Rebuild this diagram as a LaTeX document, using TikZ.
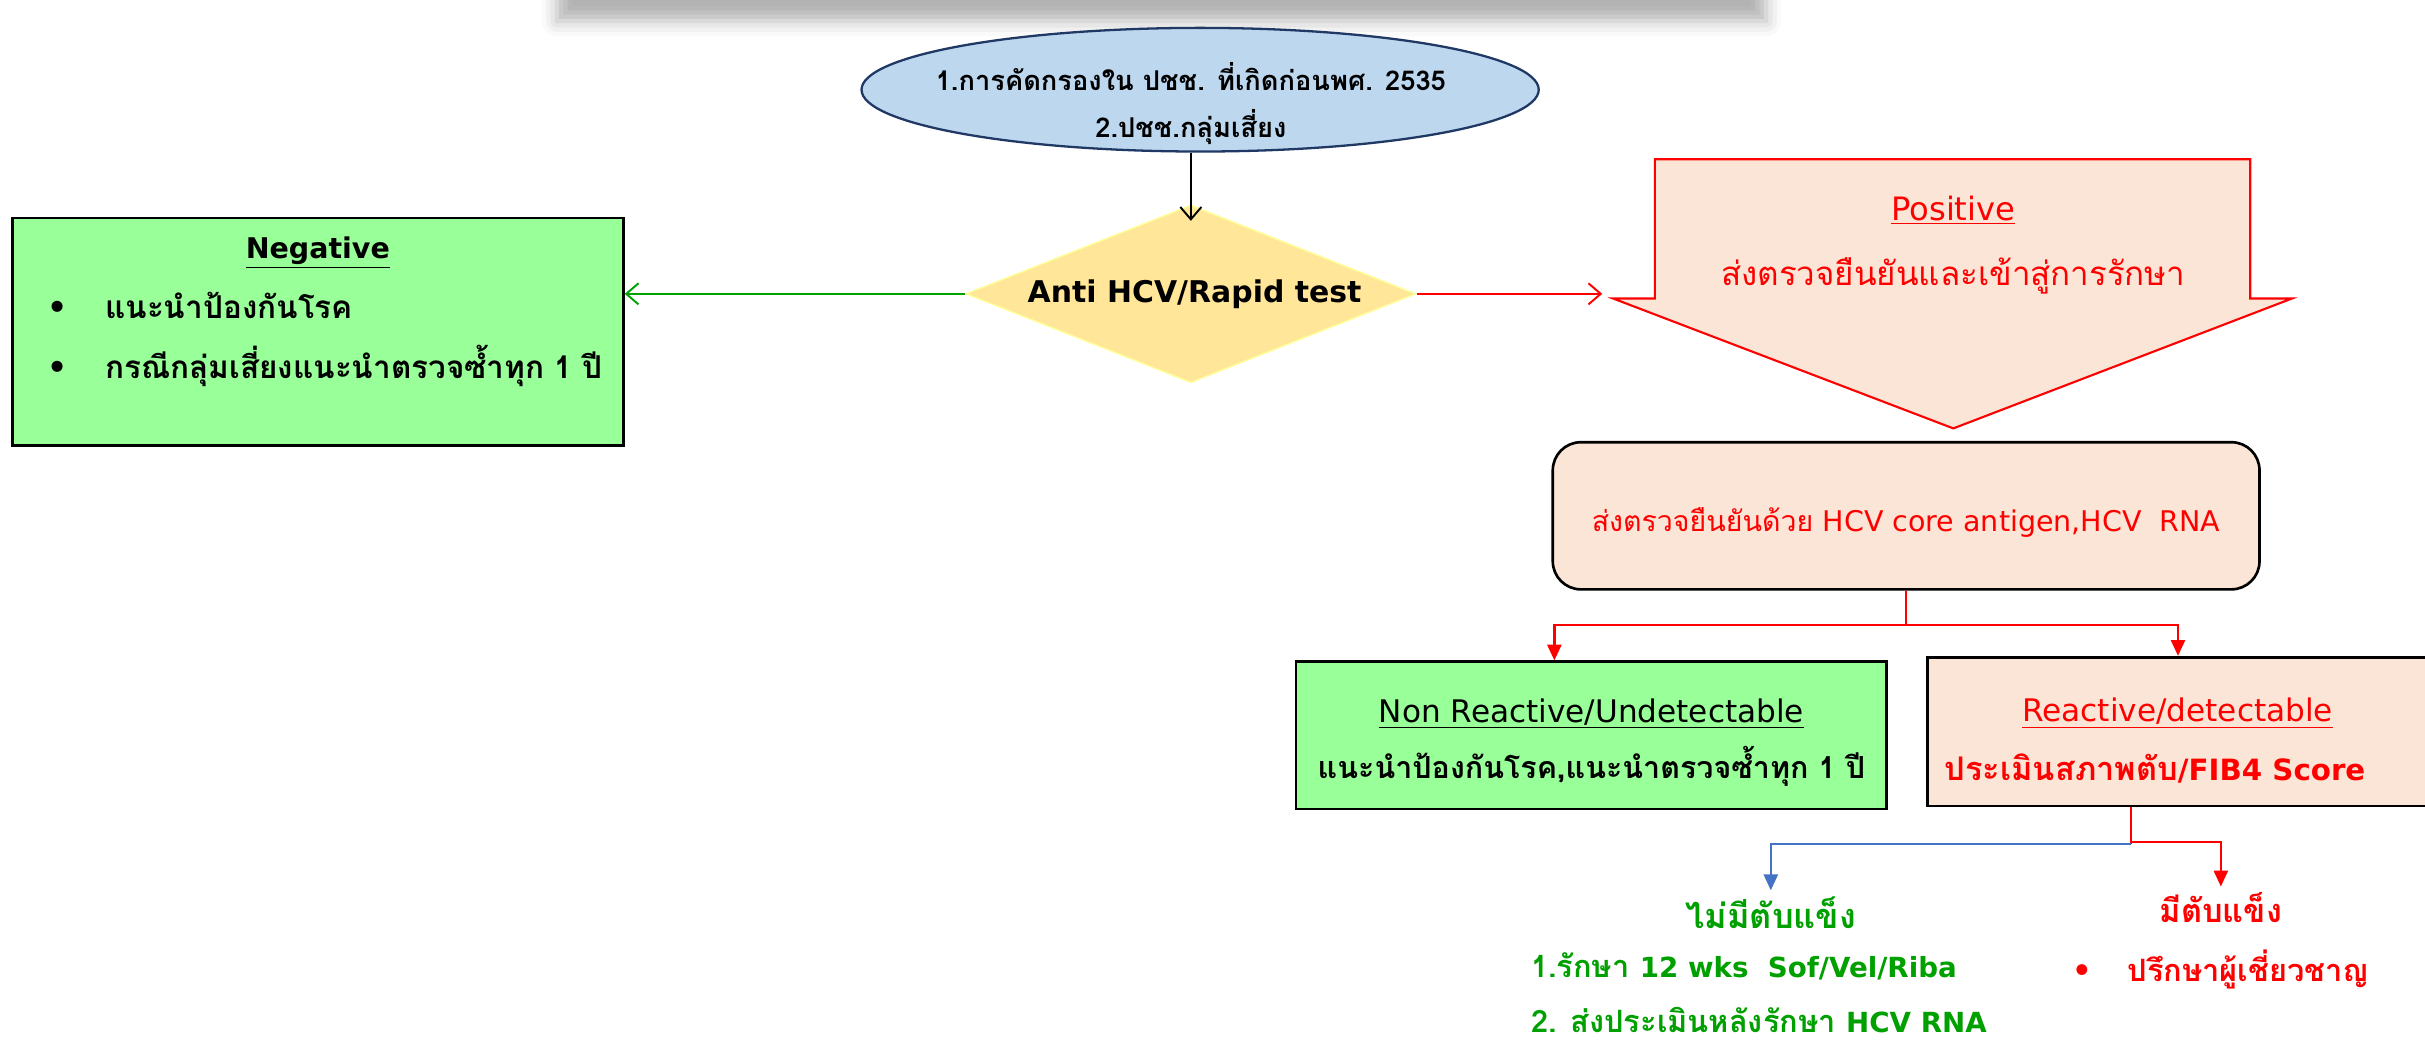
\documentclass[tikz,border=0pt]{standalone}
\usepackage{fontspec}
\setmainfont{Loma}[Script=Thai]
\newfontfamily\lat{DejaVu Sans}
\newfontfamily\latb{DejaVu Sans}[Scale=0.9]
\newfontfamily\bulletfont{DejaVu Sans}
\usetikzlibrary{arrows.meta, shapes.geometric, positioning, shadows.blur}

\definecolor{SkyFill}{HTML}{BDD7EE}
\definecolor{NavyLine}{HTML}{203864}
\definecolor{GoldFill}{HTML}{FFE699}
\definecolor{PaleYellow}{HTML}{FFFF99}
\definecolor{MintFill}{HTML}{99FF99}
\definecolor{PeachFill}{HTML}{FBE5D6}
\definecolor{PureRed}{HTML}{FF0000}
\definecolor{LeafGreen}{HTML}{00A000}
\definecolor{SteelBlue}{HTML}{4472C4}

\tikzset{
  banner/.style={rectangle, fill=white, minimum width=24.16cm, minimum height=3cm,
    blur shadow={shadow xshift=0pt, shadow yshift=-12.5pt, shadow blur radius=8.5pt, shadow opacity=30}},
  startnode/.style={ellipse, draw=NavyLine, fill=SkyFill, line width=1.3pt,
    minimum width=13.53cm, minimum height=2.47cm, inner sep=0pt},
  testnode/.style={diamond, draw=PaleYellow, fill=GoldFill, line width=0.8pt,
    minimum width=8.99cm, minimum height=3.55cm, aspect=2.5, inner sep=0pt,
    font=\lat\bfseries\fontsize{17}{22}\selectfont},
  resultbox/.style={rectangle, draw=black, line width=1.5pt, inner sep=0pt},
  boxtext/.style={align=center, inner sep=0pt},
  blockarrow/.style={draw=PureRed, fill=PeachFill, line width=1.2pt, line join=miter},
  vtip/.style={line width=1.1pt, -{Straight Barb[length=7pt,width=12pt]}},
  filltip/.style={line width=1.3pt, -{Triangle[length=9pt,width=8pt]}}
}

\begin{document}
\begin{tikzpicture}[x=0.0309cm, y=-0.0309cm]
\useasboundingbox (0,0) rectangle (1568,675);
\begin{scope}
\clip (0,0) rectangle (1568,675);

% shadow of the title bar above the page
\node[banner] (bar) at (751,-49) {};

% screening group
\node[startnode] (screen) at (776,58) {};
\node[align=center, font=\bfseries\fontsize{15.5}{26.4}\selectfont] (screentext) at (770,67)
  {1.การคัดกรองใน ปชช. ที่เกิดก่อนพศ. 2535\\2.ปชช.กลุ่มเสี่ยง};

% rapid test
\node[testnode] (rapid) at (770,190) {\hspace{0.15cm}Anti HCV/Rapid test};
\draw[vtip, shorten >=-0.33cm] (screen.south -| rapid.north) -- (rapid.north);

% negative result
\node[resultbox, fill=MintFill, minimum width=12.21cm, minimum height=4.54cm]
  (neg) at (205.5,214.5) {};
\node[boxtext, text width=11.6cm, align=left, font=\bfseries\fontsize{17.9}{34}\selectfont]
  (negtext) at (205.5,201.5) {%
  {\centering\underline{\lat\fontsize{16.2}{34}\selectfont Negative}\par}
  \hspace*{0.4cm}{\bulletfont •}\hspace{0.75cm}แนะนำป้องกันโรค\par
  \hspace*{0.4cm}{\bulletfont •}\hspace{0.75cm}กรณีกลุ่มเสี่ยงแนะนำตรวจซ้ำทุก 1 ปี};
\draw[vtip, LeafGreen] (rapid.west) -- (rapid.west -| neg.east);

% positive result
\draw[blockarrow] (1070,103) -- (1455,103) -- (1455,193) -- (1482,193)
  -- (1263,277) -- (1043,193) -- (1070,193) -- cycle;
\coordinate (posin) at (1036,190);
\node[boxtext, text=PureRed, font=\fontsize{18.8}{37}\selectfont] (pos) at (1263,158.5)
  {\underline{\lat\fontsize{18.3}{37}\selectfont Positive}\\ส่งตรวจยืนยันและเข้าสู่การรักษา};
\draw[vtip, PureRed] (rapid.east) -- (posin);

% confirmation test
\node[resultbox, fill=PeachFill, rounded corners=16pt, minimum width=14.12cm,
  minimum height=2.94cm, text=PureRed, font=\fontsize{16.2}{20}\selectfont]
  (confirm) at (1232.5,333.5)
  {\raisebox{-9pt}[0pt][0pt]{ส่งตรวจยืนยันด้วย {\lat HCV core antigen,HCV\ \ RNA}}};

% not detected / detected
\node[resultbox, fill=MintFill, minimum width=11.8cm, minimum height=2.94cm]
  (nonreact) at (1029,475.5) {};
\node[boxtext, font=\fontsize{17.3}{31.7}\selectfont] (nonreacttext) at (1029,480)
  {\underline{\lat\fontsize{17.7}{31.7}\selectfont Non Reactive/Undetectable}\\
   \textbf{แนะนำป้องกันโรค,แนะนำตรวจซ้ำทุก 1 ปี}};
\node[resultbox, fill=PeachFill, minimum width=10.6cm, minimum height=2.97cm]
  (react) at (1418,473) {};
\node[boxtext, text=PureRed, font=\fontsize{18.5}{33.5}\selectfont] (reacttext) at (1408,479)
  {\underline{\lat\fontsize{17.7}{33.5}\selectfont Reactive/detectable}\\
   \textbf{ประเมินสภาพตับ{\latb /FIB4 Score}}\hspace*{0.9cm}};
\draw[filltip, PureRed] (confirm.south) -- ++(0,22) -| ([xshift=-0.74cm]nonreact.north);
\draw[filltip, PureRed] (confirm.south) -- ++(0,22) -| ([xshift=-0.3cm]react.north);

% liver status
\node[text=LeafGreen, font=\bfseries\fontsize{19.5}{20}\selectfont] (nocirr) at (1145,590) {ไม่มีตับแข็ง};
\node[text=PureRed, font=\bfseries\fontsize{18.5}{20}\selectfont] (cirr) at (1436,587) {มีตับแข็ง};
\draw[line width=1.3pt, PureRed] ([xshift=-1.24cm]react.south) -- ++(0,24) coordinate (fork);
\draw[filltip, SteelBlue] (fork) -| (nocirr.north);
\draw[filltip, PureRed] ([yshift=0.04cm]fork) -| (cirr.north);

\node[anchor=west, align=left, text=LeafGreen, font=\bfseries\fontsize{17.5}{31}\selectfont]
  (treat) at (986,642)
  {1.รักษา {\latb 12 wks\ \ Sof/Vel/Riba}\\2. ส่งประเมินหลังรักษา {\latb HCV RNA}};
\node[anchor=west, inner sep=0pt, text=PureRed, font=\bfseries\fontsize{17.5}{20}\selectfont]
  (expert) at (1340,627) {{\bulletfont •}\hspace{0.7cm}ปรึกษาผู้เชี่ยวชาญ};
\end{scope}
\end{tikzpicture}
\end{document}
